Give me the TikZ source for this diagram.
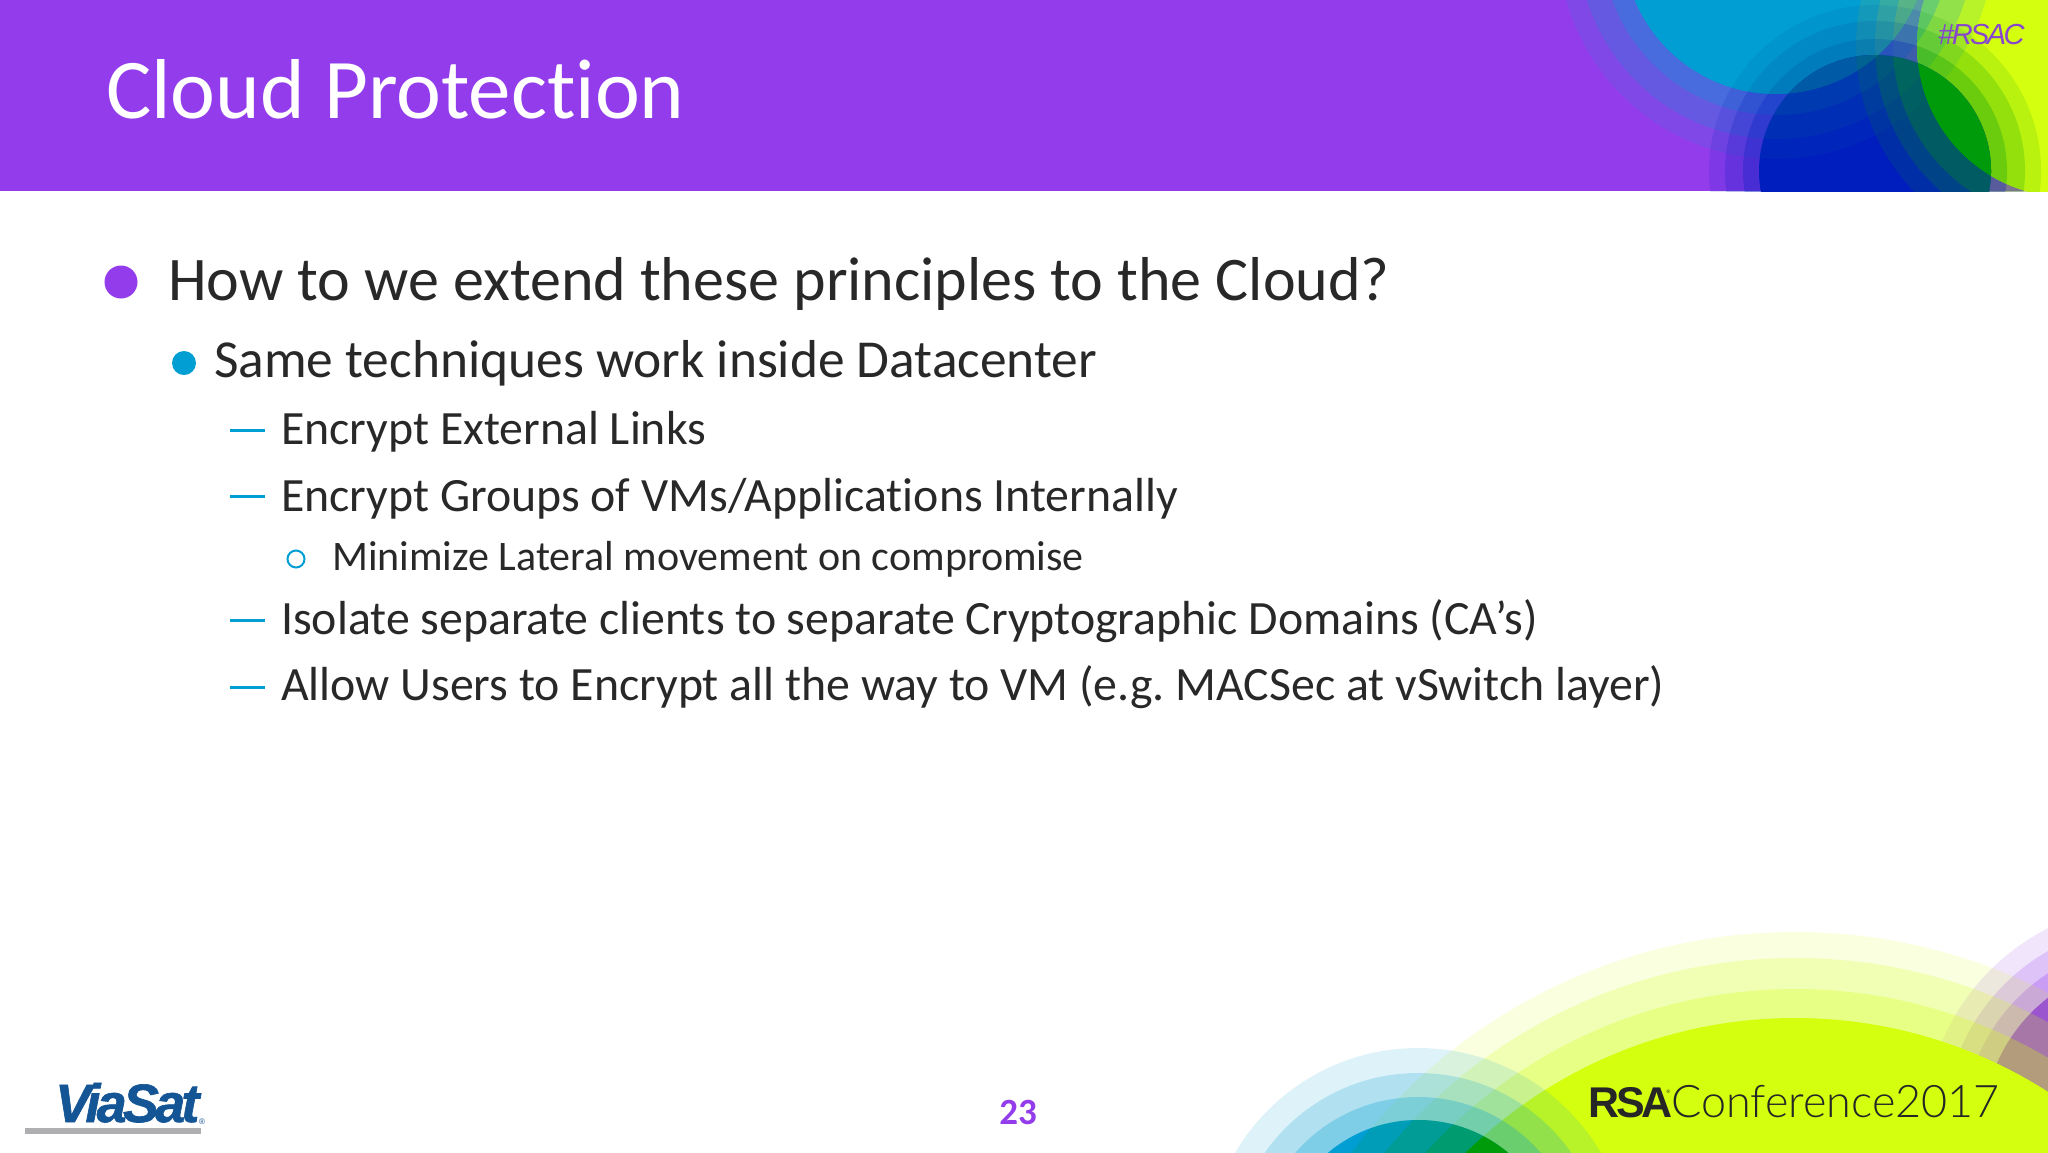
\documentclass[tikz,border=0pt]{standalone}
\usepackage{fontspec}
\setmainfont{Carlito}[RawFeature=-liga]
\newfontfamily\rsacfont[LetterSpace=-9]{Liberation Sans}
\newfontfamily\rsabold[LetterSpace=-7]{Liberation Sans}
\newfontfamily\viafont[LetterSpace=-7,FakeBold=1.2]{Liberation Sans}
\newfontfamily\plainsans{Liberation Sans}
\newfontfamily\confthin{Lato Light}
\definecolor{banner}{RGB}{147,60,235}
\definecolor{cyancore}{RGB}{0,158,210}
\definecolor{bluecore}{RGB}{0,30,190}
\definecolor{limecore}{RGB}{212,255,15}
\definecolor{greencore}{RGB}{0,155,10}
\definecolor{deepcyan}{RGB}{0,90,165}
\definecolor{bodyink}{RGB}{40,40,40}
\definecolor{viablue}{RGB}{20,85,150}
\definecolor{viagrey}{RGB}{175,175,178}
\definecolor{tagpurple}{RGB}{135,70,205}
\newcommand{\ringset}[5]{%
  \fill[#5,opacity=.13] #1 circle[radius=#2pt];
  \fill[#5,opacity=.20] #1 circle[radius=#3pt];
  \fill[#5,opacity=.28] #1 circle[radius=#4pt];}
\newcommand{\fsz}[1]{\fontsize{#1}{#1}\selectfont}
\tikzset{
  line1/.style={anchor=base west,inner sep=0pt,text=bodyink,font=\fsz{62}},
  line2/.style={anchor=base west,inner sep=0pt,text=bodyink,font=\fsz{53.4}},
  line3/.style={anchor=base west,inner sep=0pt,text=bodyink,font=\fsz{47.8}},
  line4/.style={anchor=base west,inner sep=0pt,text=bodyink,font=\fsz{42}},
  dashbar/.style={draw=cyancore,line width=3pt},
}
\frenchspacing
\begin{document}
\begin{tikzpicture}[x=1pt,y=-1pt]
\useasboundingbox (0,0) rectangle (2048,1152);
\fill[white] (0,0) rectangle (2048,1152);
% --- banner
\begin{scope}
\clip (0,0) rectangle (2048,191);
\fill[banner] (0,0) rectangle (2048,191);
\def\LC{(2068,46)}\def\CC{(1776,-59)}\def\BC{(1875,171)}
\ringset{\LC}{212}{193}{175}{limecore}
\fill[limecore] \LC circle[radius=151pt];
\ringset{\CC}{218}{198}{174}{cyancore}
\fill[cyancore] \CC circle[radius=153pt];
\ringset{\BC}{166}{150}{132}{bluecore}
\begin{scope}\clip \CC circle[radius=153pt];
\fill[cyancore] \CC circle[radius=153pt];
\ringset{\LC}{212}{193}{175}{limecore!60!gray}
\ringset{\BC}{166}{150}{132}{deepcyan}
\end{scope}
\begin{scope}\clip \LC circle[radius=151pt];
\fill[limecore] \LC circle[radius=151pt];
\ringset{\CC}{218}{198}{174}{cyancore}
\ringset{\BC}{166}{150}{132}{greencore}
\end{scope}
\fill[bluecore] \BC circle[radius=116pt];
\begin{scope}\clip \BC circle[radius=116pt];
\ringset{\CC}{218}{198}{174}{deepcyan}
\fill[deepcyan] \CC circle[radius=153pt];
\ringset{\LC}{212}{193}{175}{greencore}
\fill[greencore] \LC circle[radius=151pt];
\end{scope}
\end{scope}
% --- bottom right art
\begin{scope}
\clip (0,0) rectangle (2048,1152);
\def\GC{(1795,1488)}\def\DC{(1418,1260)}\def\PC{(2150,1130)}
\ringset{\PC}{226}{206}{187}{banner}
\fill[banner] \PC circle[radius=167pt];
\ringset{\GC}{556}{530}{499}{limecore}
\fill[limecore] \GC circle[radius=470pt];
\ringset{\DC}{212}{187}{163}{cyancore}
\fill[cyancore] \DC circle[radius=140pt];
\begin{scope}\clip \DC circle[radius=140pt];
\ringset{\GC}{556}{530}{499}{greencore}
\fill[greencore] \GC circle[radius=470pt];
\end{scope}
\end{scope}
% --- title and tag
\node[anchor=base west,inner sep=0pt,text=white,font=\fsz{85}] (title) at (106,118) {Cloud Protection};
\node[anchor=base west,inner sep=0pt,text=tagpurple,font=\rsacfont\itshape\fsz{29}] (tag) at (1938,44) {\#RSAC};
% --- bullets
\fill[banner] (121,282) circle[radius=16.5pt];
\node[line1] (t1) at (168,300) {How to we extend these principles to the Cloud?};
\fill[cyancore] (184,363) circle[radius=12pt];
\node[line2] (t2) at (214,377) {Same techniques work inside Datacenter};
\draw[dashbar] (230,430) -- (265,430);
\node[line3] (t3) at (281,444) {Encrypt External Links};
\draw[dashbar] (230,496) -- (265,496);
\node[line3] (t4) at (281,511) {Encrypt Groups of VMs/Applications Internally};
\draw[draw=cyancore,line width=2pt] (296,559) circle[radius=8.5pt];
\node[line4] (t5) at (332,570) {Minimize Lateral movement on compromise};
\draw[dashbar] (230,620) -- (265,620);
\node[line3] (t6) at (281,634) {Isolate separate clients to separate Cryptographic Domains (CA’s)};
\draw[dashbar] (230,687) -- (265,687);
\node[line3] (t7) at (281,700) {Allow Users to Encrypt all the way to VM (e.g. MACSec at vSwitch layer)};
% --- footer
\node[anchor=center,inner sep=0pt,text=banner,font=\bfseries\fsz{37}] (pnum) at (1018,1112) {23};
\node[anchor=base west,inner sep=0pt,text=viablue,font=\viafont\bfseries\itshape\fsz{54}] (via) at (55,1122) {ViaSat};
\node[anchor=base west,inner sep=0pt,text=viablue,font=\plainsans\fsz{8}] (viareg) at (199,1124) {®};
\fill[viagrey] (25,1128) rectangle (201,1134);
\node[anchor=base west,inner sep=0pt,text=black!85,font=\rsabold\bfseries\fsz{43}] (rsa) at (1588,1117) {RSA};
\node[anchor=base west,inner sep=0pt,text=black!85,font=\plainsans\fsz{5}] (rsareg) at (1666.5,1093) {®};
\node[anchor=base west,inner sep=0pt,text=black!85,font=\confthin\fsz{44.9}] (conf) at (1671,1117) {Conference2017};
\end{tikzpicture}
\end{document}
